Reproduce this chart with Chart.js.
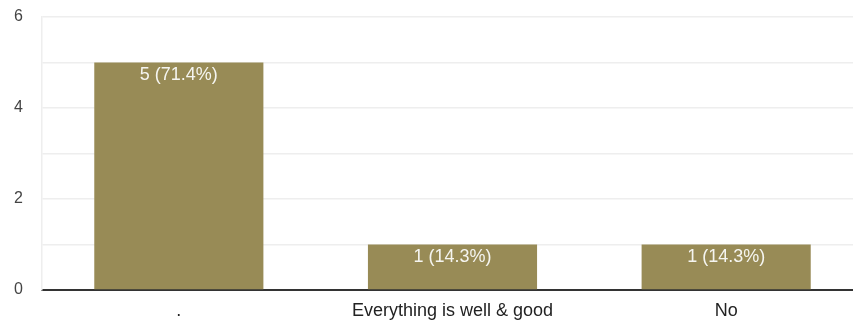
<!DOCTYPE html>
<html>
<head>
<meta charset="utf-8">
<script src="https://cdn.jsdelivr.net/npm/chart.js@4"></script>
<style>
  html, body { margin: 0; padding: 0; background: #fff; overflow: hidden; }
  #wrap { width: 863px; height: 320px; }
</style>
</head>
<body>
<div id="wrap"><canvas id="myChart" width="863" height="320"></canvas></div>
<script>
// answers and how many people picked each
const answers  = ['.', 'Everything is well & good', 'No'];
const counts   = [5, 1, 1];
const percents = ['71.4%', '14.3%', '14.3%'];
const yTicks   = [0, 2, 4, 6];

const fontFam = "'Liberation Sans', Arial, sans-serif";

// writes "5 (71.4%)" inside the top of each bar
const barText = {
    id: 'barText',
    afterDatasetsDraw(chart) {
        const ctx = chart.ctx;
        const bars = chart.getDatasetMeta(0).data;
        ctx.save();
        ctx.font = '18px ' + fontFam;
        ctx.fillStyle = '#f5f5f0';
        ctx.textAlign = 'center';
        ctx.textBaseline = 'middle';
        bars.forEach((bar, i) => {
            ctx.fillText(counts[i] + ' (' + percents[i] + ')', bar.x, bar.y + 13);
        });
        ctx.restore();
    }
};

let ctx = document.getElementById('myChart').getContext('2d');

new Chart(ctx, {
    type: 'bar',
    data: {
        labels: answers,
        datasets: [{
            data: counts,
            backgroundColor: '#988b56',
            barPercentage: 0.618,
            categoryPercentage: 1
        }]
    },
    options: {
        responsive: false,
        animation: false,
        layout: { padding: 0 },
        plugins: {
            legend: { display: false },
            tooltip: { enabled: false }
        },
        scales: {
            x: {
                grid: { display: false, drawTicks: false },
                border: { color: '#333', width: 2 },
                ticks: {
                    color: '#222',
                    padding: 10,
                    font: { size: 18, family: fontFam }
                },
                afterFit(scale) { scale.height = 30; }
            },
            y: {
                min: 0,
                max: 6,
                grid: { color: '#eeeeee', lineWidth: 1.5, drawTicks: false },
                border: { color: '#eeeeee', width: 1.5 },
                ticks: {
                    stepSize: 1,
                    color: '#444',
                    padding: 19,
                    font: { size: 16, family: fontFam },
                    callback: v => yTicks.includes(v) ? v : ''
                },
                afterFit(scale) {
                    scale.width = 42;
                    scale.paddingTop = 17;      // top gridline sits at y=17
                    scale.paddingBottom = 0;
                }
            }
        }
    },
    plugins: [barText]
});
</script>
</body>
</html>
